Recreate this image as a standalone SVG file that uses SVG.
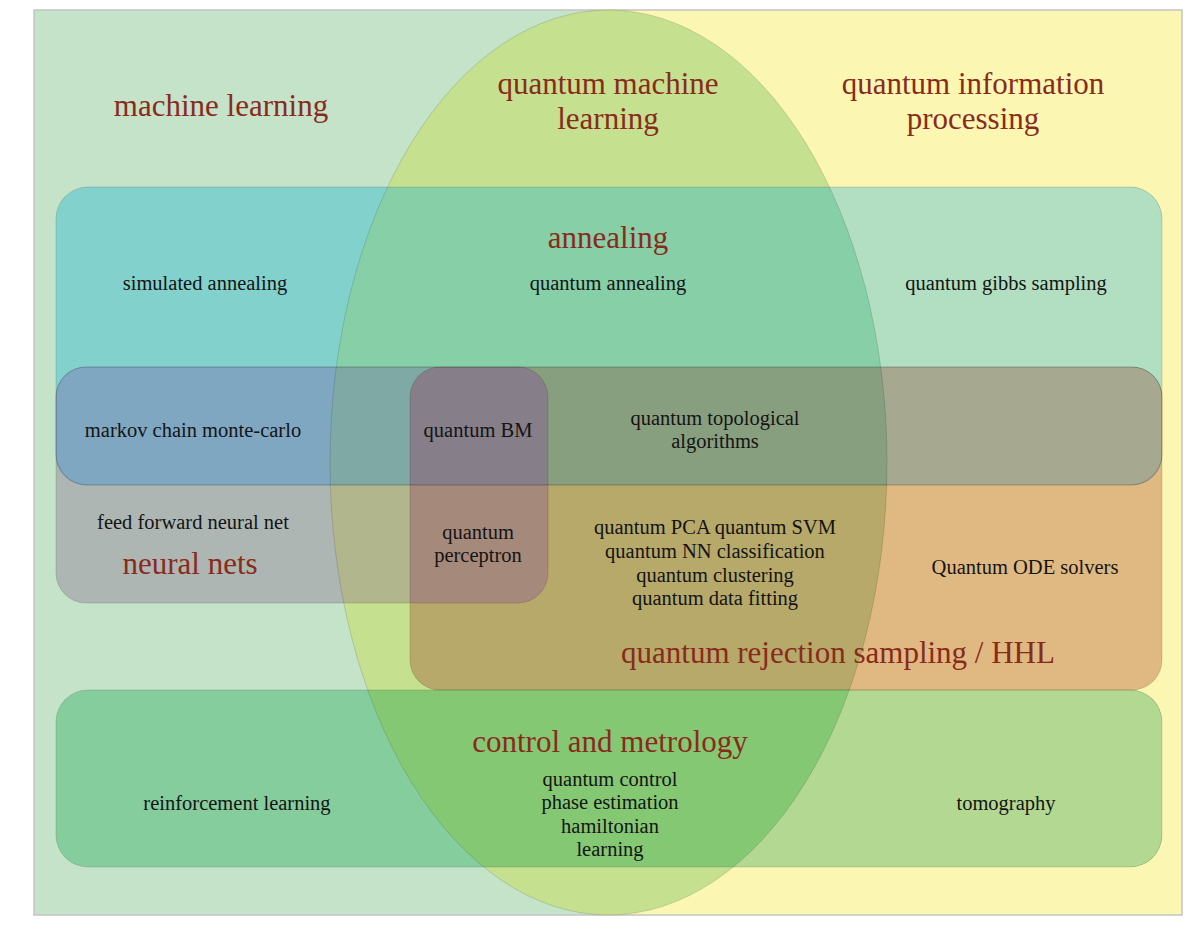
<svg xmlns="http://www.w3.org/2000/svg" width="1200" height="942" viewBox="0 0 1200 942">
<style>
.t{font-family:"Liberation Serif","Times New Roman",serif;font-size:20.5px;fill:#141414;text-anchor:middle}
.h{font-family:"Liberation Serif","Times New Roman",serif;font-size:31px;fill:#8a2a1c;text-anchor:middle}
.ol{fill:none;stroke:#000;stroke-opacity:0.13;stroke-width:1}
</style>
<defs>
<clipPath id="cpE"><ellipse cx="608.5" cy="462.5" rx="278.5" ry="452.5"/></clipPath>
<clipPath id="cpR"><rect x="608" y="0" width="600" height="942"/></clipPath>
<clipPath id="cpRej"><rect x="410" y="367" width="752" height="323" rx="30"/></clipPath>
<clipPath id="cpNeu"><rect x="56" y="367" width="492" height="236" rx="30"/></clipPath>
<rect id="rAnn" x="56" y="187" width="1106" height="298" rx="32"/>
<rect id="rCtl" x="56" y="690" width="1106" height="177" rx="32"/>
<rect id="rRej" x="410" y="367" width="752" height="323" rx="30"/>
<rect id="rNeu" x="56" y="367" width="492" height="236" rx="30"/>
<rect id="rMar" x="56" y="367" width="1106" height="118" rx="30"/>
</defs>

<g id="background">
<rect x="34" y="10" width="574" height="905" fill="#c4e3c8"/>
<rect x="608" y="10" width="574" height="905" fill="#fbf7b2"/>
<rect x="34" y="10" width="1148" height="905" fill="none" stroke="#c4c4c4" stroke-width="1.5"/>
</g>

<g id="quantum-machine-learning">
<ellipse cx="608.5" cy="462.5" rx="278.5" ry="452.5" fill="#c5e08e"/>
</g>

<g id="annealing">
<use href="#rAnn" fill="#83d1cc"/>
<use href="#rAnn" fill="#b2dfc1" clip-path="url(#cpR)"/>
<use href="#rAnn" fill="#87cfa7" clip-path="url(#cpE)"/>
</g>

<g id="control-and-metrology">
<use href="#rCtl" fill="#86cd9d"/>
<use href="#rCtl" fill="#b3d891" clip-path="url(#cpR)"/>
<use href="#rCtl" fill="#85c873" clip-path="url(#cpE)"/>
</g>

<g id="rejection-sampling">
<use href="#rRej" fill="#dfb981"/>
<use href="#rRej" fill="#b6a96a" clip-path="url(#cpE)"/>
</g>

<g id="neural-nets">
<use href="#rNeu" fill="#adb6b2"/>
<use href="#rNeu" fill="#b2b68d" clip-path="url(#cpE)"/>
<use href="#rNeu" fill="#a5897a" clip-path="url(#cpRej)"/>
</g>

<g id="markov-chain">
<use href="#rMar" fill="#80a7c2"/>
<use href="#rMar" fill="#a6a890" clip-path="url(#cpR)"/>
<use href="#rMar" fill="#7fa9a4" clip-path="url(#cpE)"/>
<g clip-path="url(#cpE)"><use href="#rMar" fill="#889f7f" clip-path="url(#cpRej)"/></g>
<g clip-path="url(#cpRej)"><use href="#rMar" fill="#867e88" clip-path="url(#cpNeu)"/></g>
</g>

<g id="outlines">
<ellipse class="ol" cx="608.5" cy="462.5" rx="278.5" ry="452.5" stroke-opacity="0.22"/>
<use href="#rAnn" class="ol"/>
<use href="#rCtl" class="ol"/>
<use href="#rRej" class="ol"/>
<use href="#rNeu" class="ol"/>
<use href="#rMar" class="ol"/>
</g>

<g id="connectors"/>

<g id="labels">
<text class="h" x="221" y="116">machine learning</text>
<text class="h" x="608" y="94">quantum machine</text>
<text class="h" x="608" y="129">learning</text>
<text class="h" x="973" y="94">quantum information</text>
<text class="h" x="973" y="129">processing</text>

<text class="h" x="608" y="248">annealing</text>
<text class="t" x="205" y="290">simulated annealing</text>
<text class="t" x="608" y="290">quantum annealing</text>
<text class="t" x="1006" y="290">quantum gibbs sampling</text>

<text class="t" x="193" y="437">markov chain monte-carlo</text>
<text class="t" x="478" y="437">quantum BM</text>
<text class="t" x="715" y="425">quantum topological</text>
<text class="t" x="715" y="448">algorithms</text>

<text class="t" x="193" y="529">feed forward neural net</text>
<text class="h" x="190" y="574">neural nets</text>
<text class="t" x="478" y="539">quantum</text>
<text class="t" x="478" y="562">perceptron</text>
<text class="t" x="715" y="534">quantum PCA quantum SVM</text>
<text class="t" x="715" y="558">quantum NN classification</text>
<text class="t" x="715" y="582">quantum clustering</text>
<text class="t" x="715" y="605">quantum data fitting</text>
<text class="t" x="1025" y="574">Quantum ODE solvers</text>
<text class="h" x="838" y="663">quantum rejection sampling / HHL</text>

<text class="h" x="610" y="752">control and metrology</text>
<text class="t" x="610" y="786">quantum control</text>
<text class="t" x="610" y="809">phase estimation</text>
<text class="t" x="610" y="833">hamiltonian</text>
<text class="t" x="610" y="856">learning</text>
<text class="t" x="237" y="810">reinforcement learning</text>
<text class="t" x="1006" y="810">tomography</text>
</g>
</svg>
